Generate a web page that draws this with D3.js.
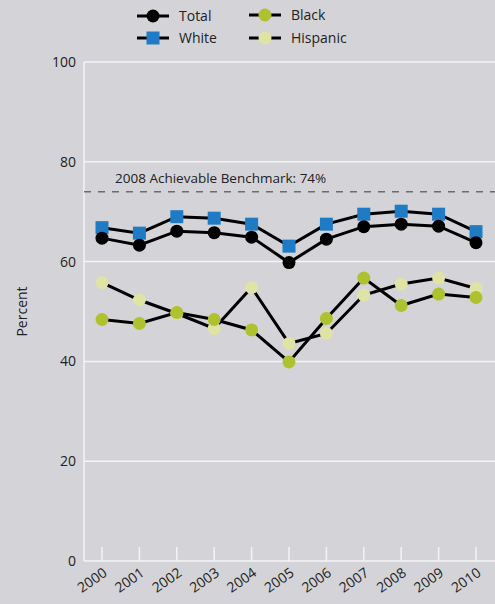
<!DOCTYPE html>
<html><head><meta charset="utf-8">
<script src="https://cdn.jsdelivr.net/npm/d3@7"></script>
<style>html,body{margin:0;padding:0;background:#d4d4d8;}svg{display:block;font-family:"Open Sans",sans-serif;}</style>
</head><body>
<script>
const years = ["2000","2001","2002","2003","2004","2005","2006","2007","2008","2009","2010"];
const total    = [64.7,63.3,66.1,65.8,64.9,59.8,64.5,67.0,67.5,67.1,63.8];
const white    = [66.8,65.7,69.0,68.7,67.5,63.1,67.5,69.5,70.1,69.5,66.0];
const black    = [48.4,47.6,49.8,48.4,46.3,39.9,48.6,56.7,51.2,53.5,52.8];
const hispanic = [55.8,52.3,49.6,46.6,54.8,43.6,45.6,53.3,55.5,56.7,54.6];
const yTicks = [0,20,40,60,80,100];
const benchmark = 74;
const benchmarkLabel = "2008 Achievable Benchmark: 74%";

const W=495,H=604;
const svg=d3.select("body").append("svg").attr("width",W).attr("height",H);
svg.append("rect").attr("width",W).attr("height",H).attr("fill","#d4d4d8");

const x=d3.scalePoint().domain(years).range([102,476]);
const y=d3.scaleLinear().domain([0,100]).range([561,62]);
const left=84,right=495;

svg.append("g").selectAll("line").data(yTicks.filter(d=>d>0)).join("line")
  .attr("x1",left).attr("x2",right).attr("y1",d=>y(d)).attr("y2",d=>y(d))
  .attr("stroke","#f4f4f6").attr("stroke-width",1.5);
svg.append("line").attr("x1",left).attr("x2",left).attr("y1",y(100)).attr("y2",y(0)).attr("stroke","#f4f4f6").attr("stroke-width",1.5);
svg.append("line").attr("x1",left).attr("x2",right).attr("y1",y(0)).attr("y2",y(0)).attr("stroke","#f4f4f6").attr("stroke-width",1.5);
svg.append("g").selectAll("line").data(years).join("line")
  .attr("x1",d=>x(d)).attr("x2",d=>x(d)).attr("y1",y(0)-14).attr("y2",y(0))
  .attr("stroke","#f4f4f6").attr("stroke-width",1.5);
svg.append("g").selectAll("text").data(yTicks).join("text")
  .attr("x",76).attr("y",d=>y(d)+5).attr("text-anchor","end")
  .attr("font-size",14).attr("fill","#222").text(d=>d);
svg.append("g").selectAll("text").data(years).join("text")
  .attr("transform",d=>`translate(${x(d)+6},${y(0)+14}) rotate(-35)`)
  .attr("text-anchor","end").attr("font-size",14).attr("fill","#222").text(d=>d);
svg.append("text").attr("transform",`translate(27,${y(50)}) rotate(-90)`)
  .attr("text-anchor","middle").attr("font-size",14).attr("fill","#222").text("Percent");

svg.append("line").attr("x1",left).attr("x2",right).attr("y1",y(benchmark)).attr("y2",y(benchmark))
  .attr("stroke","#6c6c70").attr("stroke-width",1.5).attr("stroke-dasharray","7,7");
svg.append("text").attr("x",115).attr("y",y(benchmark)-9).attr("font-size",13.5).attr("fill","#222").text(benchmarkLabel);

const line=d3.line().x((d,i)=>x(years[i])).y(d=>y(d));
const series=[
  {name:"Hispanic",vals:hispanic,color:"#dfe3a3",shape:"circle"},
  {name:"Black",vals:black,color:"#aec12f",shape:"circle"},
  {name:"White",vals:white,color:"#1f7cc4",shape:"square"},
  {name:"Total",vals:total,color:"#000",shape:"circle"}
];
series.forEach(s=>{
  svg.append("path").datum(s.vals).attr("d",line).attr("fill","none").attr("stroke","#000").attr("stroke-width",3);
});
function marker(g,s,cx,cy){
  if(s.shape==="square") g.append("rect").attr("x",cx-6.5).attr("y",cy-6.5).attr("width",13).attr("height",13).attr("fill",s.color);
  else g.append("circle").attr("cx",cx).attr("cy",cy).attr("r",6.5).attr("fill",s.color);
}
series.forEach(s=>{
  const g=svg.append("g");
  s.vals.forEach((v,i)=>marker(g,s,x(years[i]),y(v)));
});

const leg=[
  {s:series[3],lx:137,ly:16,tx:179},
  {s:series[1],lx:249,ly:15,tx:291},
  {s:series[2],lx:137,ly:38,tx:179},
  {s:series[0],lx:249,ly:38,tx:291}
];
leg.forEach(l=>{
  const g=svg.append("g");
  g.append("line").attr("x1",l.lx).attr("x2",l.lx+32).attr("y1",l.ly).attr("y2",l.ly).attr("stroke","#000").attr("stroke-width",3);
  marker(g,l.s,l.lx+16,l.ly);
  g.append("text").attr("x",l.tx).attr("y",l.ly+5).attr("font-size",14).attr("fill","#222").text(l.s.name);
});
</script>
</body></html>
